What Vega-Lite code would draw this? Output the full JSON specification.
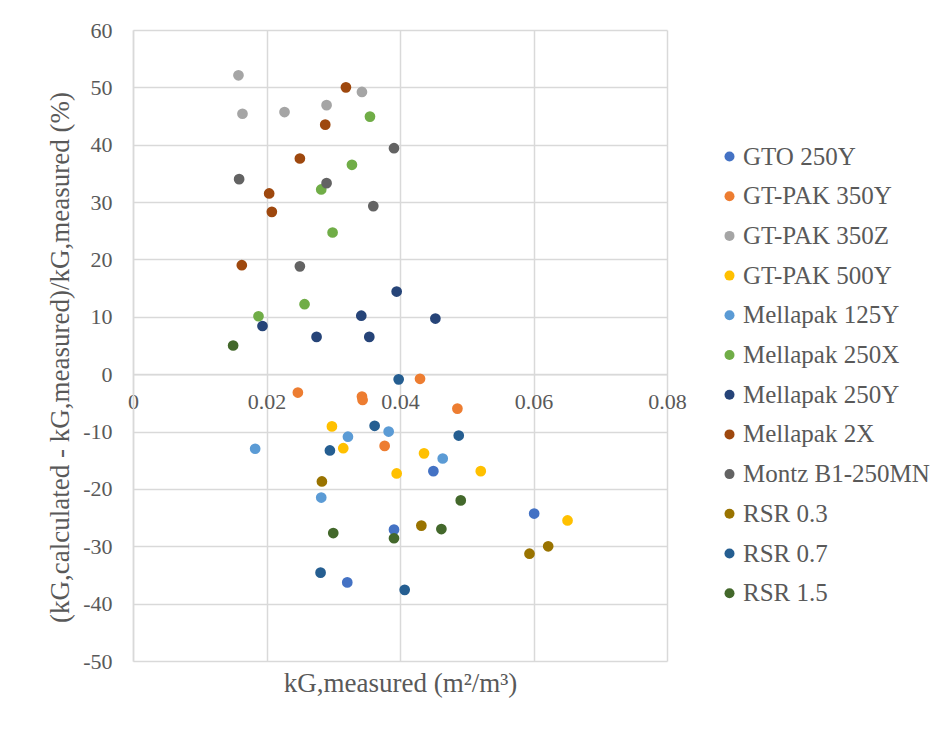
{
  "$schema": "https://vega.github.io/schema/vega-lite/v6.json",
  "width": 534,
  "height": 631,
  "autosize": {"type": "none"},
  "padding": {"left": 133, "top": 30, "right": 274, "bottom": 69},
  "background": "white",
  "config": {
    "font": "Liberation Serif",
    "view": {"stroke": null},
    "axis": {"labelFont": "Liberation Serif", "titleFont": "Liberation Serif", "labelColor": "#595959", "titleColor": "#595959", "gridColor": "#d9d9d9", "gridWidth": 1.5, "domainColor": "#d9d9d9", "domainWidth": 1.5, "ticks": false, "titleFontWeight": "normal"}
  },
  "data": {
    "values": [
      {"series": "GTO 250Y", "k": 0.0450, "err": -16.9},
      {"series": "GTO 250Y", "k": 0.0601, "err": -24.3},
      {"series": "GTO 250Y", "k": 0.0391, "err": -27.1},
      {"series": "GTO 250Y", "k": 0.0321, "err": -36.3},
      {"series": "GT-PAK 350Y", "k": 0.0247, "err": -3.2},
      {"series": "GT-PAK 350Y", "k": 0.0343, "err": -3.9},
      {"series": "GT-PAK 350Y", "k": 0.0344, "err": -4.5},
      {"series": "GT-PAK 350Y", "k": 0.0377, "err": -12.5},
      {"series": "GT-PAK 350Y", "k": 0.0430, "err": -0.8},
      {"series": "GT-PAK 350Y", "k": 0.0486, "err": -6.0},
      {"series": "GT-PAK 350Z", "k": 0.0158, "err": 52.1},
      {"series": "GT-PAK 350Z", "k": 0.0164, "err": 45.4},
      {"series": "GT-PAK 350Z", "k": 0.0227, "err": 45.7},
      {"series": "GT-PAK 350Z", "k": 0.0290, "err": 46.9},
      {"series": "GT-PAK 350Z", "k": 0.0343, "err": 49.2},
      {"series": "GT-PAK 500Y", "k": 0.0298, "err": -9.1},
      {"series": "GT-PAK 500Y", "k": 0.0315, "err": -12.9},
      {"series": "GT-PAK 500Y", "k": 0.0395, "err": -17.3},
      {"series": "GT-PAK 500Y", "k": 0.0436, "err": -13.8},
      {"series": "GT-PAK 500Y", "k": 0.0521, "err": -16.9},
      {"series": "GT-PAK 500Y", "k": 0.0651, "err": -25.5},
      {"series": "Mellapak 125Y", "k": 0.0183, "err": -13.0},
      {"series": "Mellapak 125Y", "k": 0.0322, "err": -10.9},
      {"series": "Mellapak 125Y", "k": 0.0383, "err": -10.0},
      {"series": "Mellapak 125Y", "k": 0.0464, "err": -14.7},
      {"series": "Mellapak 125Y", "k": 0.0282, "err": -21.5},
      {"series": "Mellapak 250X", "k": 0.0355, "err": 44.9},
      {"series": "Mellapak 250X", "k": 0.0328, "err": 36.5},
      {"series": "Mellapak 250X", "k": 0.0282, "err": 32.2},
      {"series": "Mellapak 250X", "k": 0.0299, "err": 24.7},
      {"series": "Mellapak 250X", "k": 0.0257, "err": 12.2},
      {"series": "Mellapak 250X", "k": 0.0188, "err": 10.1},
      {"series": "Mellapak 250Y", "k": 0.0194, "err": 8.4},
      {"series": "Mellapak 250Y", "k": 0.0275, "err": 6.5},
      {"series": "Mellapak 250Y", "k": 0.0342, "err": 10.2},
      {"series": "Mellapak 250Y", "k": 0.0354, "err": 6.5},
      {"series": "Mellapak 250Y", "k": 0.0395, "err": 14.4},
      {"series": "Mellapak 250Y", "k": 0.0453, "err": 9.7},
      {"series": "Mellapak 2X", "k": 0.0319, "err": 50.0},
      {"series": "Mellapak 2X", "k": 0.0288, "err": 43.5},
      {"series": "Mellapak 2X", "k": 0.0250, "err": 37.6},
      {"series": "Mellapak 2X", "k": 0.0204, "err": 31.5},
      {"series": "Mellapak 2X", "k": 0.0208, "err": 28.3},
      {"series": "Mellapak 2X", "k": 0.0163, "err": 19.0},
      {"series": "Montz B1-250MN", "k": 0.0159, "err": 34.0},
      {"series": "Montz B1-250MN", "k": 0.0290, "err": 33.3},
      {"series": "Montz B1-250MN", "k": 0.0391, "err": 39.4},
      {"series": "Montz B1-250MN", "k": 0.0360, "err": 29.3},
      {"series": "Montz B1-250MN", "k": 0.0250, "err": 18.8},
      {"series": "RSR 0.3", "k": 0.0283, "err": -18.7},
      {"series": "RSR 0.3", "k": 0.0432, "err": -26.4},
      {"series": "RSR 0.3", "k": 0.0594, "err": -31.3},
      {"series": "RSR 0.3", "k": 0.0622, "err": -30.0},
      {"series": "RSR 0.7", "k": 0.0398, "err": -0.9},
      {"series": "RSR 0.7", "k": 0.0362, "err": -9.0},
      {"series": "RSR 0.7", "k": 0.0295, "err": -13.3},
      {"series": "RSR 0.7", "k": 0.0488, "err": -10.7},
      {"series": "RSR 0.7", "k": 0.0281, "err": -34.6},
      {"series": "RSR 0.7", "k": 0.0407, "err": -37.6},
      {"series": "RSR 1.5", "k": 0.0150, "err": 5.0},
      {"series": "RSR 1.5", "k": 0.0300, "err": -27.7},
      {"series": "RSR 1.5", "k": 0.0391, "err": -28.6},
      {"series": "RSR 1.5", "k": 0.0462, "err": -27.0},
      {"series": "RSR 1.5", "k": 0.0491, "err": -22.0}
    ]
  },
  "mark": {"type": "circle", "size": 115, "opacity": 1},
  "encoding": {
    "x": {
      "field": "k", "type": "quantitative",
      "scale": {"domain": [0, 0.08], "nice": false, "zero": false},
      "axis": {"values": [0, 0.02, 0.04, 0.06, 0.08], "format": "~g", "labelFontSize": 22, "labelPadding": 17, "offset": -286.8, "title": "kG,measured (m²/m³)", "titleFontSize": 27, "titleX": 267, "titleY": 309, "titleBaseline": "middle", "titleAnchor": "middle", "labelFlush": false}
    },
    "y": {
      "field": "err", "type": "quantitative",
      "scale": {"domain": [-50, 60], "nice": false},
      "axis": {"values": [-50, -40, -30, -20, -10, 0, 10, 20, 30, 40, 50, 60], "labelExpr": "replace(datum.label, '−', '-')", "labelFontSize": 22, "labelPadding": 21, "title": "(kG,calculated - kG,measured)/kG,measured  (%)", "titleFontSize": 27, "titleX": -73, "titleY": 327, "titleAngle": -90, "titleAlign": "center", "titleBaseline": "middle"}
    },
    "color": {
      "field": "series", "type": "nominal",
      "scale": {
        "domain": ["GTO 250Y", "GT-PAK 350Y", "GT-PAK 350Z", "GT-PAK 500Y", "Mellapak 125Y", "Mellapak 250X", "Mellapak 250Y", "Mellapak 2X", "Montz B1-250MN", "RSR 0.3", "RSR 0.7", "RSR 1.5"],
        "range": ["#4472C4", "#ED7D31", "#A5A5A5", "#FFC000", "#5B9BD5", "#70AD47", "#264478", "#9E480E", "#636363", "#997300", "#255E91", "#43682B"]
      },
      "legend": {"title": null, "orient": "none", "legendX": 584, "legendY": 114, "labelFont": "Liberation Serif", "labelFontSize": 25, "labelColor": "#595959", "symbolType": "circle", "symbolSize": 100, "symbolStrokeWidth": 0, "labelOffset": 1, "rowPadding": 13.7, "labelLimit": 300}
    }
  }
}
